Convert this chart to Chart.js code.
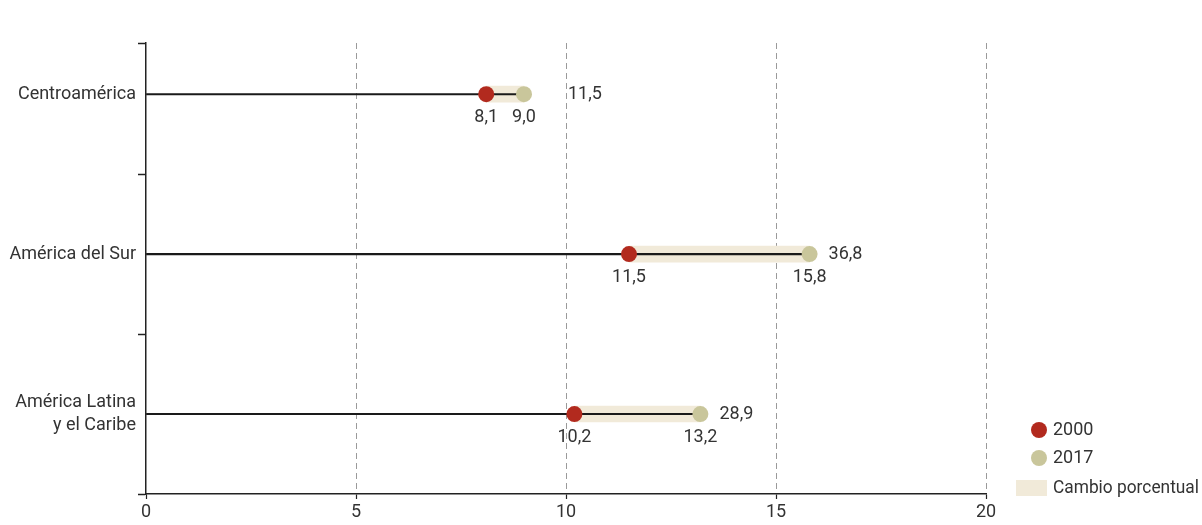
<!DOCTYPE html>
<html>
<head>
<meta charset="utf-8">
<script src="https://cdn.jsdelivr.net/npm/chart.js@4.4.1/dist/chart.umd.min.js"></script>
<style>
  html, body { margin: 0; padding: 0; background: #fff; }
  #wrap { width: 1202px; height: 525px; position: relative; }
</style>
</head>
<body>
<div id="wrap"><canvas id="c"></canvas></div>
<script>
// ---- Data ----
const categories = ['Centroamérica', 'América del Sur', ['América Latina', 'y el Caribe']];
const values2000 = [8.1, 11.5, 10.2];
const values2017 = [9.0, 15.8, 13.2];
const pctChange = [11.5, 36.8, 28.9];
const xTickValues = [0, 5, 10, 15, 20];
const seriesNames = ['2000', '2017', 'Cambio porcentual'];

// ---- Styles ----
const FONT = 'Roboto, "Liberation Sans", sans-serif';
const FS = 18;
const TEXT = '#333333';
const RED = '#b22a1e';
const OLIVE = '#c9c69b';
const BAND = '#f1ead9';
const n = categories.length;
const pos = i => n - i - 0.5;
const fmt = v => v.toFixed(1).replace('.', ',');
const pctOffsets = [44, 19, 19];

const yTickValues = [0, 0.5, 1, 1.5, 2, 2.5, 2.82];
const isHalf = v => { const d = Math.abs(v - Math.round(v)); return d > 0.3 && d < 0.7; };

const labelsPlugin = {
  id: 'labelsPlugin',
  afterDatasetsDraw(chart) {
    const ctx = chart.ctx;
    const xs = chart.scales.x, ys = chart.scales.y;
    ctx.save();
    ctx.font = FS + 'px ' + FONT;
    ctx.fillStyle = TEXT;
    ctx.textBaseline = 'middle';
    for (let i = 0; i < n; i++) {
      const y = ys.getPixelForValue(pos(i));
      const x0 = xs.getPixelForValue(values2000[i]);
      const x1 = xs.getPixelForValue(values2017[i]);
      ctx.textAlign = 'center';
      ctx.fillText(fmt(values2000[i]), x0, y + 23);
      ctx.fillText(fmt(values2017[i]), x1, y + 23);
      ctx.textAlign = 'left';
      ctx.fillText(fmt(pctChange[i]), x1 + pctOffsets[i], y);
    }
    ctx.restore();
  },
  afterDraw(chart) {
    const ctx = chart.ctx;
    ctx.save();
    ctx.font = FS + 'px ' + FONT;
    ctx.textBaseline = 'middle';
    ctx.textAlign = 'left';
    ctx.fillStyle = RED;
    ctx.beginPath(); ctx.arc(1039, 430, 8, 0, Math.PI * 2); ctx.fill();
    ctx.fillStyle = OLIVE;
    ctx.beginPath(); ctx.arc(1039, 458, 8, 0, Math.PI * 2); ctx.fill();
    ctx.fillStyle = BAND;
    ctx.fillRect(1016, 480, 31, 16);
    ctx.fillStyle = TEXT;
    ctx.fillText(seriesNames[0], 1053, 430);
    ctx.fillText(seriesNames[1], 1053, 458);
    ctx.fillText(seriesNames[2], 1053, 488, 146);
    ctx.restore();
  }
};

new Chart(document.getElementById('c'), {
  type: 'bar',
  data: {
    datasets: [
      {
        type: 'bar', label: seriesNames[2], indexAxis: 'y', grouped: false, order: 4,
        data: categories.map((c, i) => ({ x: [values2000[i], values2017[i]], y: pos(i) })),
        backgroundColor: BAND, barThickness: 16, borderWidth: 0
      },
      {
        type: 'bar', label: 'line', indexAxis: 'y', grouped: false, order: 3,
        data: categories.map((c, i) => ({ x: [0, values2017[i]], y: pos(i) })),
        backgroundColor: '#1a1a1a', barThickness: 1.4, borderWidth: 0
      },
      {
        type: 'scatter', label: seriesNames[0], order: 1,
        data: categories.map((c, i) => ({ x: values2000[i], y: pos(i) })),
        backgroundColor: RED, borderWidth: 0, pointRadius: 8, pointHoverRadius: 8
      },
      {
        type: 'scatter', label: seriesNames[1], order: 2,
        data: categories.map((c, i) => ({ x: values2017[i], y: pos(i) })),
        backgroundColor: OLIVE, borderWidth: 0, pointRadius: 8, pointHoverRadius: 8
      }
    ]
  },
  options: {
    indexAxis: 'y',
    responsive: true,
    maintainAspectRatio: false,
    animation: false,
    layout: { padding: { top: 43, right: 216, left: 0, bottom: 0 } },
    plugins: { legend: { display: false }, tooltip: { enabled: false } },
    scales: {
      x: {
        type: 'linear', min: 0, max: 20, offset: false,
        afterBuildTicks: s => { s.ticks = xTickValues.map(v => ({ value: v })); },
        afterFit: s => { s.height = 31; },
        ticks: { color: TEXT, font: { family: FONT, size: FS }, padding: 3, callback: v => String(v) },
        grid: {
          offset: false,
          color: ctx => (ctx.tick && ctx.tick.value === 0) ? 'rgba(0,0,0,0)' : '#9a9a9a',
          lineWidth: 1, tickLength: 5, tickColor: '#222', tickWidth: 1.2
        },
        border: { color: '#222', width: 1.5, dash: [6, 4] }
      },
      y: {
        type: 'linear', min: 0, max: 2.82, offset: false,
        afterBuildTicks: s => { s.ticks = yTickValues.map(v => ({ value: v })); },
        afterFit: s => { s.width = 146; },
        ticks: {
          autoSkip: false, color: TEXT, font: { family: FONT, size: FS, lineHeight: 1.3 }, padding: 2,
          callback: (v) => {
            if (!isHalf(v)) return '';
            const idx = n - 1 - Math.floor(v);
            return categories[idx];
          }
        },
        grid: {
          offset: false, drawOnChartArea: false, tickLength: 8, tickWidth: 1.5,
          tickColor: ctx => (ctx.tick && isHalf(ctx.tick.value)) ? 'rgba(0,0,0,0)' : '#222'
        },
        border: { color: '#222', width: 1.5 }
      }
    }
  },
  plugins: [labelsPlugin]
});
</script>
</body>
</html>
